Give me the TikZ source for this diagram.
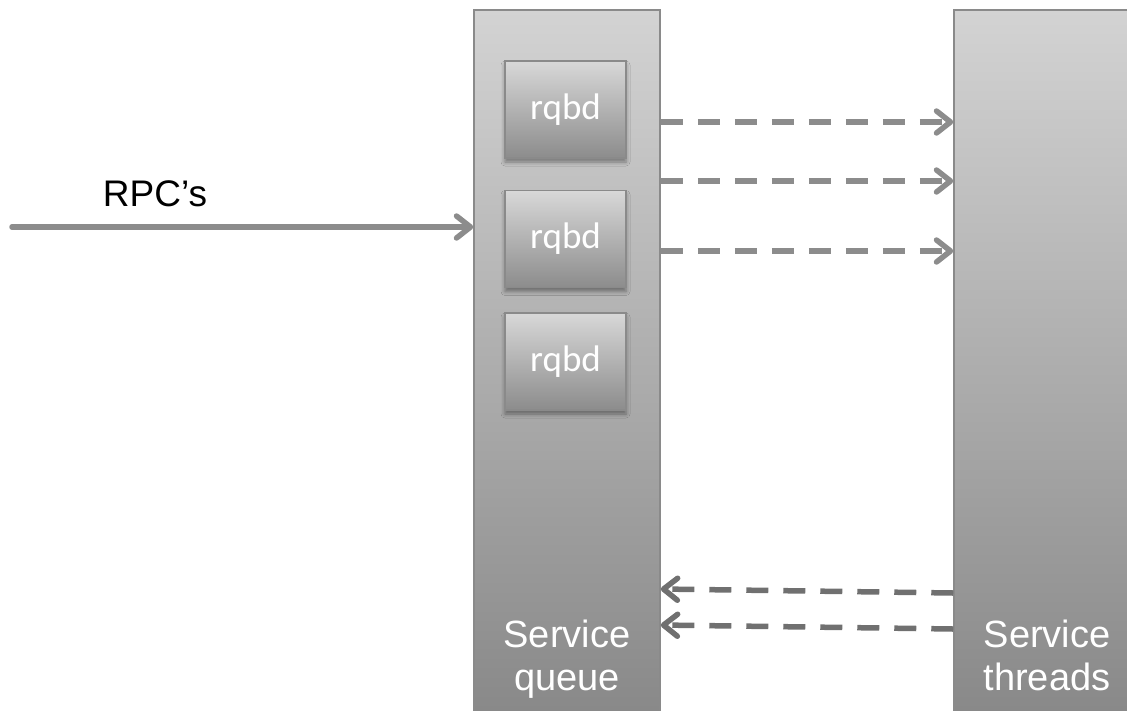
\documentclass[tikz,border=0pt]{standalone}
\usepackage{fontspec}
\setmainfont{Liberation Sans}
\newfontfamily\boxfont{Carlito}
\usetikzlibrary{arrows.meta,shadows.blur}
\definecolor{colTop}{HTML}{D3D3D3}
\definecolor{colBot}{HTML}{888888}
\definecolor{boxTop}{HTML}{D8D8D8}
\definecolor{boxBot}{HTML}{8C8C8C}
\definecolor{edgeGray}{HTML}{8A8A8A}
\definecolor{arrGray}{HTML}{8C8C8C}
\definecolor{backGray}{HTML}{707070}
\tikzset{
  column/.style={draw=edgeGray, line width=1.5pt, top color=colTop, bottom color=colBot,
    minimum width=186pt, minimum height=710pt, inner sep=0pt},
  rqbox/.style={draw=edgeGray, line width=1.2pt, top color=boxTop, bottom color=boxBot,
    minimum width=121pt, minimum height=97pt, inner sep=0pt, text=white,
    font=\boxfont\fontsize{37}{37}\selectfont,
    blur shadow={shadow xshift=0pt, shadow yshift=-4pt, shadow blur radius=4pt, shadow opacity=40}},
  collabel/.style={text=white, font=\fontsize{38}{38}\selectfont, anchor=base, inner sep=0pt},
  plainlabel/.style={text=black, font=\fontsize{37}{37}\selectfont, anchor=base, inner sep=0pt},
  tip/.style={-{Straight Barb[length=14pt, width=22pt, line width=5.5pt, round]}},
  solidarrow/.style={draw=arrGray, line width=5.5pt, line cap=round, tip},
  dasharrow/.style={draw=arrGray, line width=5.5pt, dash pattern=on 22pt off 15pt, tip},
  backarrow/.style={draw=backGray, line width=5.5pt, dash pattern=on 22pt off 15pt, tip},
}
\begin{document}
\begin{tikzpicture}[x=1pt, y=-1pt]
\useasboundingbox (0,0) rectangle (1127,710);
\begin{scope}
\clip (0,0) rectangle (1127,710);
\node[column] (q) at (567,365) {};
\node[column, minimum width=190pt] (t) at (1049,365) {};
\node[rqbox] (b1) at (565.5,109.5) {rqbd};
\node[rqbox] (b2) at (565.5,239) {rqbd};
\node[rqbox] (b3) at (565.5,361.5) {rqbd};
\node[collabel] (ql1) at (567,647) {Service};
\node[collabel] (ql2) at (567,690) {queue};
\node[collabel] (tl1) at (1047,647) {Service};
\node[collabel] (tl2) at (1047,690) {threads};
\node[plainlabel] (rpc) at (155,206) {RPC’s};
\coordinate (src) at (12,227);
\draw[solidarrow] (src) -- (q.west |- src);
\draw[dasharrow] (q.east |- 0,122) -- (t.west |- 0,122);
\draw[dasharrow] (q.east |- 0,181) -- (t.west |- 0,181);
\draw[dasharrow] (q.east |- 0,251) -- (t.west |- 0,251);
\draw[backarrow] (t.west |- 0,593) -- (q.east |- 0,589);
\draw[backarrow] (t.west |- 0,629) -- (q.east |- 0,625);
\end{scope}
\end{tikzpicture}
\end{document}
